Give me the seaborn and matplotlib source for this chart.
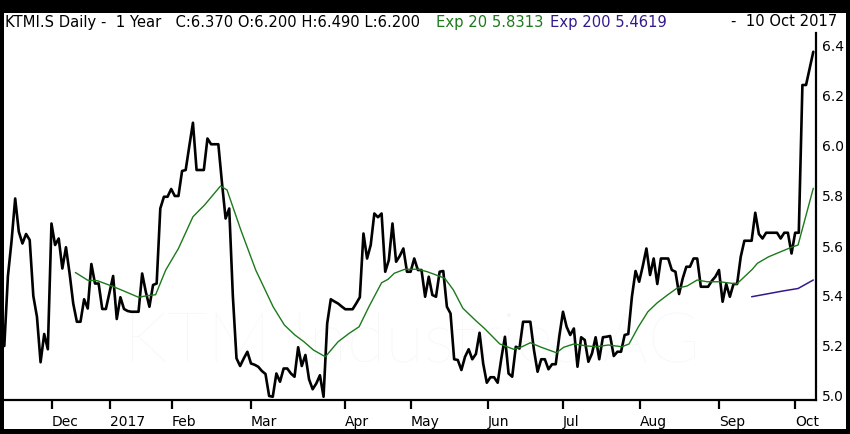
import numpy as np
import pandas as pd
import matplotlib
matplotlib.use("Agg")
import matplotlib.pyplot as plt
from matplotlib.patches import Rectangle
import seaborn as sns

# ---------------- data ----------------
close = [
    5.20, 5.48, 5.62, 5.79, 5.657, 5.61, 5.648, 5.624, 5.40, 5.317,
    5.135, 5.248, 5.187, 5.69, 5.604, 5.63, 5.51, 5.595, 5.49, 5.37,
    5.297, 5.297, 5.387, 5.35, 5.528, 5.45, 5.45, 5.348, 5.348, 5.413,
    5.48, 5.308, 5.395, 5.348, 5.34, 5.337, 5.337, 5.337, 5.49, 5.417,
    5.357, 5.444, 5.45, 5.75, 5.797, 5.797, 5.828, 5.80, 5.80, 5.90,
    5.904, 6.00, 6.093, 5.904, 5.904, 5.904, 6.03, 6.007, 6.007, 6.007,
    5.853, 5.71, 5.75, 5.40, 5.151, 5.12, 5.15, 5.177, 5.13, 5.125,
    5.117, 5.10, 5.088, 5.00, 4.997, 5.09, 5.057, 5.11, 5.11, 5.09,
    5.077, 5.195, 5.12, 5.164, 5.067, 5.027, 5.05, 5.083, 4.997, 5.29,
    5.387, 5.378, 5.37, 5.358, 5.347, 5.347, 5.347, 5.37, 5.395, 5.65,
    5.55, 5.604, 5.73, 5.715, 5.73, 5.497, 5.544, 5.69, 5.537, 5.56,
    5.59, 5.497, 5.497, 5.55, 5.504, 5.504, 5.397, 5.477, 5.404, 5.397,
    5.497, 5.50, 5.357, 5.33, 5.147, 5.144, 5.104, 5.157, 5.187, 5.147,
    5.168, 5.253, 5.13, 5.053, 5.075, 5.075, 5.053, 5.15, 5.237, 5.09,
    5.077, 5.197, 5.19, 5.297, 5.297, 5.297, 5.184, 5.097, 5.147, 5.147,
    5.107, 5.127, 5.127, 5.24, 5.337, 5.277, 5.244, 5.27, 5.117, 5.235,
    5.224, 5.137, 5.17, 5.235, 5.147, 5.235, 5.237, 5.24, 5.16, 5.177,
    5.177, 5.244, 5.248, 5.397, 5.50, 5.457, 5.52, 5.59, 5.484, 5.55,
    5.448, 5.55, 5.55, 5.55, 5.504, 5.497, 5.408, 5.47, 5.517, 5.517,
    5.55, 5.55, 5.437, 5.437, 5.437, 5.46, 5.477, 5.504, 5.377, 5.448,
    5.397, 5.448, 5.448, 5.557, 5.621, 5.621, 5.621, 5.733, 5.648, 5.63,
    5.653, 5.653, 5.653, 5.653, 5.63, 5.653, 5.653, 5.57, 5.653, 5.653,
    6.244, 6.244, 6.31, 6.377,
]

ema20_day = [19.6, 23, 25.7, 29.6, 32.3, 37, 39.7, 41.7, 44.5, 48, 52, 55.2,
             59.6, 61.4, 65.2, 69.3, 74.1, 77.2, 80.1, 82.6, 85.2, 88.5, 92,
             95.1, 97.8, 100.5, 104, 105.8, 107.5, 110.4, 114, 116.6, 119.8,
             121.4, 123.8, 126.4, 130, 132.3, 136.6, 140.4, 142.7, 145, 148,
             152.2, 154.2, 157, 160.7, 163.2, 166.5, 170.2, 172.2, 174.8,
             177.4, 180, 182.8, 185.4, 188.2, 191, 193.7, 197.2, 201.9, 206.2,
             207.6, 210.7, 217, 218.8, 223]
ema20_val = [5.494, 5.463, 5.461, 5.44, 5.424, 5.395, 5.402, 5.405, 5.504,
             5.59, 5.717, 5.764, 5.84, 5.824, 5.664, 5.504, 5.357, 5.284,
             5.244, 5.217, 5.184, 5.157, 5.217, 5.251, 5.277, 5.357, 5.453,
             5.467, 5.491, 5.507, 5.507, 5.497, 5.48, 5.471, 5.424, 5.351,
             5.301, 5.271, 5.208, 5.187, 5.197, 5.213, 5.195, 5.173, 5.195,
             5.208, 5.20, 5.197, 5.204, 5.197, 5.208, 5.277, 5.337, 5.373,
             5.404, 5.431, 5.44, 5.464, 5.457, 5.457, 5.448, 5.507, 5.531,
             5.557, 5.595, 5.604, 5.831]

ema200_day = [206, 214.6, 218.8, 223]
ema200_val = [5.397, 5.42, 5.43, 5.464]

month_labels = ["Dec", "2017", "Feb", "Mar", "Apr", "May", "Jun", "Jul",
                "Aug", "Sep", "Oct"]
month_day = [13.1, 29.1, 46.1, 68, 94, 112, 133.2, 154, 175.2, 197, 218]
y_ticks = [5.0, 5.2, 5.4, 5.6, 5.8, 6.0, 6.2, 6.4]

header_main = "KTMI.S Daily -  1 Year   C:6.370 O:6.200 H:6.490 L:6.200"
header_ema20 = "Exp 20 5.8313"
header_ema200 = "Exp 200 5.4619"
header_date = "-  10 Oct 2017"
watermark = "KTM Industries AG"

GREEN = "#1b7a1b"
PURPLE = "#34198a"

# ---------------- figure ----------------
sns.set_theme(style="white")
plt.rcParams['font.family'] = ['DejaVu Sans']

W, H = 850, 434
fig = plt.figure(figsize=(W / 100, H / 100), dpi=100, facecolor="black")
fig.add_artist(Rectangle((4 / W, 5 / H), 842 / W, 416 / H,
                         transform=fig.transFigure, facecolor="white",
                         edgecolor="none", zorder=-1))

ax = fig.add_axes([4 / W, 34 / H, 812 / W, 367 / H])
ax.set_facecolor("none")

df_close = pd.DataFrame({"day": np.arange(len(close)), "price": close})
df_e20 = pd.DataFrame({"day": ema20_day, "price": ema20_val})
df_e200 = pd.DataFrame({"day": ema200_day, "price": ema200_val})

ax.text(0.502, 0.155, watermark, transform=ax.transAxes, ha="center",
        va="center", fontsize=51, color="#f6f6f6", zorder=0,
        family=["Lato", "DejaVu Sans"], fontweight="light")

sns.lineplot(data=df_close, x="day", y="price", ax=ax, color="black",
             linewidth=1.9, sort=False, zorder=3)
sns.lineplot(data=df_e20, x="day", y="price", ax=ax, color=GREEN,
             linewidth=1.0, sort=False, zorder=4)
sns.lineplot(data=df_e200, x="day", y="price", ax=ax, color=PURPLE,
             linewidth=1.1, sort=False, zorder=4)

n = len(close)
step = 809 / (n - 1)
ax.set_xlim(-0.3 / step, (816 - 4.3) / step)
ax.set_ylim(5 - 4 / 250, 5 + 363 / 250)

ax.set_xlabel("")
ax.set_ylabel("")
for s in ["left", "top"]:
    ax.spines[s].set_visible(False)
for s in ["bottom", "right"]:
    ax.spines[s].set_visible(True)
    ax.spines[s].set_color("black")
    ax.spines[s].set_linewidth(1.6)

ax.yaxis.tick_right()
ax.set_yticks(y_ticks)
ax.set_yticklabels([f"{v:.1f}" for v in y_ticks])
ax.tick_params(axis="y", length=0, pad=4, labelsize=10, colors="black")

ax.set_xticks(month_day)
ax.set_xticklabels(month_labels)
ax.tick_params(axis="x", direction="out", length=6.5, width=1.6, pad=4.5,
               labelsize=10, colors="black", bottom=True)
for lbl in ax.get_xticklabels():
    lbl.set_horizontalalignment("left")

ax.grid(False)

hy = 1 - 22 / H
fig.text(5 / W, hy, header_main, ha="left", va="center", fontsize=10.6,
         color="black")
fig.text(436 / W, hy, header_ema20, ha="left", va="center", fontsize=10.6,
         color=GREEN)
fig.text(550 / W, hy, header_ema200, ha="left", va="center", fontsize=10.6,
         color=PURPLE)
fig.text(837 / W, hy, header_date, ha="right", va="center", fontsize=10.6,
         color="black")

fig.savefig("out.png", dpi=100, facecolor="black")
